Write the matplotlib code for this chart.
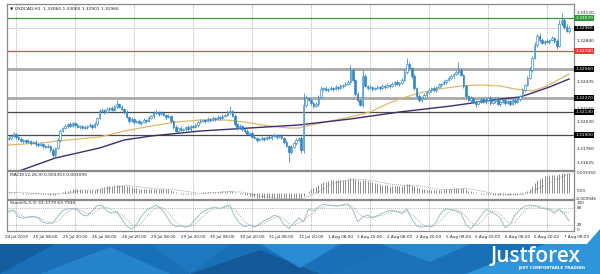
import numpy as np
import matplotlib
matplotlib.use("Agg")
import matplotlib.pyplot as plt
from matplotlib.patches import Polygon
from matplotlib.transforms import blended_transform_factory

# ---- data (prices in pips above 1.3000, one H1 bar per value) ----
base = 1.3
first_open = 186
close_pips = [
    187, 189, 191, 188, 186, 184, 185, 183, 184, 182, 183, 181,
    180, 181, 179, 178, 179, 175, 170, 177, 185, 194, 197, 199,
    201, 199, 202, 200, 198, 199, 197, 198, 199, 200, 198, 201,
    207, 214, 215, 213, 216, 217, 215, 219, 221, 218, 216, 213,
    208, 204, 206, 203, 204, 202, 203, 205, 204, 207, 209, 212,
    213, 211, 212, 210, 208, 209, 204, 198, 194, 197, 195, 196,
    198, 196, 199, 198, 200, 203, 204, 205, 204, 206, 205, 207,
    206, 208, 207, 209, 210, 213, 214, 209, 201, 197, 199, 196,
    194, 191, 192, 188, 187, 185, 186, 187, 186, 188, 187, 189,
    190, 188, 189, 187, 183, 179, 173, 178, 182, 185, 187, 175,
    220, 227, 225, 222, 219, 221, 228, 236, 237, 235, 236, 237,
    236, 238, 237, 239, 240, 241, 243, 255, 245, 231, 225, 220,
    249, 239, 237, 238, 236, 237, 238, 237, 239, 238, 240, 239,
    241, 243, 241, 242, 245, 253, 261, 257, 249, 237, 229, 225,
    227, 230, 233, 235, 237, 235, 238, 240, 241, 243, 245, 247,
    249, 251, 253, 255, 250, 239, 229, 225, 227, 223, 221, 224,
    226, 223, 225, 227, 222, 224, 226, 221, 223, 225, 222, 224,
    221, 225, 223, 226, 229, 235, 240, 247, 255, 267, 280, 289,
    285, 282, 284, 283, 285, 287, 284, 279, 301, 305, 298, 294, 297,
]
wick_hi = [
    2, 1, 2, 1, 1, 2, 1, 1, 2, 1, 1, 2,
    1, 2, 1, 1, 2, 1, 2, 1, 2, 2, 1, 2,
    1, 2, 1, 1, 2, 1, 1, 2, 1, 2, 1, 2,
    1, 2, 2, 1, 2, 1, 2, 1, 4, 1, 2, 1,
    2, 1, 2, 1, 1, 2, 1, 2, 1, 2, 1, 2,
    2, 1, 2, 1, 1, 2, 1, 1, 2, 1, 2, 1,
    1, 2, 1, 1, 2, 1, 2, 1, 1, 2, 1, 2,
    1, 2, 1, 2, 1, 2, 5, 1, 2, 1, 2, 1,
    1, 2, 1, 1, 2, 1, 1, 2, 1, 1, 2, 1,
    2, 1, 1, 2, 1, 2, 1, 2, 1, 2, 1, 2,
    12, 3, 1, 2, 1, 2, 2, 3, 1, 2, 1, 2,
    1, 2, 1, 2, 1, 2, 2, 5, 2, 1, 2, 1,
    6, 2, 1, 2, 1, 1, 2, 1, 2, 1, 2, 1,
    2, 1, 2, 1, 2, 3, 6, 2, 1, 2, 1, 2,
    1, 2, 1, 2, 1, 2, 1, 2, 1, 2, 1, 2,
    2, 1, 2, 8, 2, 1, 2, 1, 2, 1, 2, 1,
    2, 1, 2, 1, 2, 1, 2, 1, 2, 1, 2, 1,
    1, 2, 1, 2, 1, 2, 1, 2, 3, 2, 3, 2,
    3, 2, 1, 2, 1, 2, 1, 2, 4, 7, 2, 3, 2,
]
wick_lo = [
    1, 2, 1, 2, 1, 1, 2, 1, 1, 2, 1, 2,
    2, 1, 2, 1, 1, 2, 3, 2, 1, 2, 1, 1,
    2, 1, 1, 2, 1, 2, 1, 1, 2, 1, 2, 1,
    2, 1, 1, 2, 1, 2, 1, 1, 2, 1, 1, 2,
    1, 2, 1, 2, 1, 1, 2, 1, 2, 1, 1, 2,
    1, 2, 1, 1, 2, 1, 2, 2, 1, 2, 1, 1,
    2, 1, 2, 1, 1, 2, 1, 1, 2, 1, 2, 1,
    2, 1, 2, 1, 1, 1, 2, 1, 2, 2, 1, 2,
    2, 1, 2, 1, 1, 2, 1, 1, 2, 1, 1, 2,
    1, 2, 1, 1, 2, 1, 10, 2, 1, 2, 1, 3,
    3, 2, 1, 2, 2, 1, 2, 1, 2, 1, 2, 1,
    2, 1, 2, 1, 2, 1, 1, 2, 1, 2, 2, 1,
    2, 1, 2, 1, 2, 1, 1, 2, 1, 2, 1, 2,
    1, 2, 1, 2, 1, 1, 2, 1, 2, 2, 1, 2,
    2, 1, 2, 1, 2, 1, 2, 1, 2, 1, 2, 1,
    1, 2, 1, 2, 1, 2, 2, 1, 2, 1, 3, 1,
    2, 1, 2, 1, 2, 1, 2, 1, 2, 1, 2, 1,
    2, 1, 2, 1, 2, 1, 2, 1, 1, 2, 1, 2,
    2, 1, 2, 1, 2, 1, 2, 3, 1, 2, 2, 1, 2,
]

# moving averages, read at a few bars
ma_fast_idx = [0, 13, 24, 37, 47, 58, 68, 78, 88, 96, 106, 114, 118, 123, 131,
               139, 147, 153, 159, 167, 175, 184, 192, 200, 206, 213, 218, 222, 228]
ma_fast = [180, 182, 185, 188, 194, 199, 203, 205, 205, 203, 199, 197, 197, 200, 204,
           208, 213, 220, 226, 232, 236, 239, 240, 239, 236, 234, 238, 243, 251]
ma_slow_idx = [2, 19, 37, 47, 58, 78, 98, 118, 139, 159, 180, 200, 208, 213, 220, 228]
ma_slow = [152, 167, 177, 185, 189, 194, 197, 200, 206, 213, 219, 226, 228, 232, 238, 246]

# horizontal levels (pips) and their label colours
levels = [307, 296.6, 274, 256, 227, 213, 190]
level_box = ["#2f9a35", "black", "#e23b3b", "black", "black", "black", "black"]

# MACD main (histogram, 1e-4 units) and signal (every 6th bar)
macd_hist = [
    1, 1, 1, 0, 0, 0, -1, -1, -1, -1, -1, -2,
    -2, -2, -2, -2, -2, -3, -4, -3, -2, 0, 2, 3,
    4, 5, 6, 6, 6, 6, 5, 5, 5, 5, 5, 5,
    6, 8, 9, 10, 11, 12, 12, 13, 14, 14, 14, 13,
    12, 11, 10, 9, 8, 7, 7, 6, 6, 6, 6, 7,
    7, 7, 7, 7, 7, 6, 5, 3, 1, 0, -1, -1,
    -1, -2, -1, -1, -1, 0, 0, 1, 1, 1, 1, 2,
    2, 2, 2, 3, 3, 4, 4, 3, 2, 0, -1, -2,
    -3, -4, -5, -6, -7, -8, -8, -9, -9, -9, -9, -9,
    -8, -9, -9, -9, -9, -9, -9.46, -9, -9, -9, -8, -8,
    -5, 0, 3, 6, 8, 10, 13, 16, 18, 19, 20, 21,
    21, 22, 22, 22, 22, 22, 23, 25, 25, 24, 22, 20,
    21, 21, 20, 19, 18, 17, 16, 15, 14, 13, 13, 12,
    12, 12, 11, 11, 11, 13, 15, 15, 14, 12, 10, 8,
    7, 6, 5, 5, 5, 5, 5, 5, 5, 6, 6, 7,
    7, 8, 9, 9, 9, 8, 6, 4, 3, 2, 1, 0,
    -1, -1, -2, -2, -2, -3, -3, -3, -3, -3, -3, -3,
    -3, -3, -3, -3, -2, -1, 1, 4, 7, 11, 16, 21,
    24, 26, 28, 29, 30, 31, 31, 31, 32, 33.5, 33.5, 33, 33,
]
macd_signal = [1, 0.5, -1, -2, -0.5, 4.8, 5.3, 8.7, 12.8, 10.1, 6.7, 6.6, 3, -0.9,
               0.8, 2.6, 1.1, -4.9, -8.6, -9.3, -9.1, 2, 16.2, 21.7, 22.7, 19.3,
               14.4, 12.2, 11.7, 6.2, 5.7, 7.7, 3.6, -1.4, -2.9, -2.2, 9, 21.3, 32.3]

# Stochastic %K / %D (every 2nd bar)
stoch_k = [70, 74, 48, 44, 48, 50, 45, 28, 24, 26, 50, 72, 78, 80, 74, 56, 52, 70, 90, 92,
           70, 62, 68, 40, 15, 2, 20, 50, 72, 82, 92, 80, 55, 25, 12, 15, 10, 18, 40, 60,
           72, 80, 85, 78, 88, 92, 50, 25, 12, 18, 10, 22, 35, 42, 55, 48, 20, 5, 25, 45,
           30, 78, 70, 85, 95, 92, 90, 88, 94, 96, 75, 30, 48, 55, 45, 52, 62, 70, 72, 68,
           60, 78, 40, 15, 10, 14, 12, 30, 65, 78, 75, 70, 62, 20, 3, 25, 50, 75, 70, 58,
           45, 8, 20, 55, 75, 88, 92, 90, 82, 78, 75, 62, 78, 60, 33]
stoch_d = [65, 70, 62, 50, 47, 48, 47, 38, 30, 26, 33, 50, 67, 77, 78, 70, 60, 60, 72, 85,
           84, 74, 66, 56, 40, 20, 12, 24, 48, 68, 82, 85, 75, 52, 30, 17, 12, 14, 24, 40,
           58, 71, 79, 81, 84, 86, 76, 55, 30, 18, 14, 17, 24, 35, 45, 50, 40, 24, 17, 25,
           34, 52, 62, 78, 84, 90, 92, 90, 91, 93, 88, 65, 50, 45, 50, 51, 54, 62, 68, 70,
           66, 68, 58, 42, 22, 13, 12, 18, 37, 58, 72, 75, 69, 50, 28, 16, 26, 50, 65, 68,
           58, 38, 24, 28, 52, 72, 85, 90, 88, 83, 78, 72, 70, 66, 63]

time_labels = ["24 Jul 2019", "25 Jul 08:00", "25 Jul 20:00", "26 Jul 08:00", "26 Jul 20:00",
               "29 Jul 08:00", "29 Jul 20:00", "30 Jul 08:00", "30 Jul 20:00", "31 Jul 08:00",
               "31 Jul 20:00", "1 Aug 08:00", "1 Aug 20:00", "2 Aug 08:00", "2 Aug 20:00",
               "5 Aug 08:00", "5 Aug 20:00", "6 Aug 08:00", "6 Aug 20:00", "7 Aug 08:00"]

# ---- derived arrays ----
to_price = lambda p: base + np.asarray(p, dtype=float) / 10000
c = np.array(close_pips, dtype=float)
o = np.r_[first_open, c[:-1]]
hi = np.maximum(o, c) + np.array(wick_hi)
lo = np.minimum(o, c) - np.array(wick_lo)
n = len(c)
idx = np.arange(n)

W, H = 600, 274
fig = plt.figure(figsize=(W / 100, H / 100), dpi=100)
fig.patch.set_facecolor("white")


def px_axes(l, t, r, b):
    return fig.add_axes([l / W, 1 - b / H, (r - l) / W, (b - t) / H])


XMIN, XMAX = -0.65, 230.0
label_bars = [3 + 12 * k for k in range(len(time_labels))]
grid_bars = label_bars[::2]
tick_fs = 3.2
txt_col = "#222222"
spine_col = "#8a8a8a"

ax = px_axes(7, 4, 574, 170)
am = px_axes(7, 171, 574, 199)
ast = px_axes(7, 200, 574, 231)
for a in (ax, am, ast):
    a.set_xlim(XMIN, XMAX)
    a.set_xticks([])
    a.set_yticks([])
    for s in a.spines.values():
        s.set_color(spine_col)
        s.set_linewidth(0.9)
    for g in grid_bars:
        a.axvline(g, color="#9a9a9a", lw=0.5, ls=(0, (1.5, 1.5)), zorder=0)

# ---- main price panel ----
ax.set_ylim(to_price(155), to_price(321))
for lv, col in zip(levels, level_box):
    p = to_price(lv)
    if col == "#2f9a35":
        ax.axhline(p, color="#3a9a3a", lw=0.9, zorder=1)
    elif col == "#e23b3b":
        ax.axhline(p, color="#e04848", lw=0.9, zorder=1)
    elif lv == 296.6:
        ax.axhline(p, color="#d0d0d0", lw=0.6, zorder=1)
    elif lv in (256, 227):
        ax.axhline(p, color="#a8a8a8", lw=2.0, zorder=1)
    else:
        ax.axhline(p, color="#4a4a4a", lw=0.9, zorder=1)

cand_col = "#2f86c4"
up = c >= o
ax.vlines(idx, to_price(lo), to_price(hi), color=cand_col, lw=0.55, zorder=3)
body_h = np.maximum(np.abs(c - o), 0.4) / 10000
ax.bar(idx[up], body_h[up], bottom=to_price(np.minimum(o, c))[up], width=0.62,
       color="white", edgecolor=cand_col, linewidth=0.45, zorder=4)
ax.bar(idx[~up], body_h[~up], bottom=to_price(np.minimum(o, c))[~up], width=0.62,
       color=cand_col, edgecolor=cand_col, linewidth=0.45, zorder=4)

ax.plot(ma_fast_idx, to_price(ma_fast), color="#e2b867", lw=0.9, zorder=2)
ax.plot(ma_slow_idx, to_price(ma_slow), color="#3d2c72", lw=1.0, zorder=2)

tr = blended_transform_factory(ax.transAxes, ax.transData)
tick_vals = [1.33120, 1.32840, 1.32435, 1.32165, 1.32030, 1.31760, 1.31625]
for tv in tick_vals:
    ax.text(1.004, tv, f"{tv:.5f}", transform=tr, fontsize=tick_fs, color=txt_col,
            va="center", ha="left", clip_on=False)
for lv, col in zip(levels, level_box):
    ax.text(1.002, to_price(lv), f"{to_price(lv):.5f}", transform=tr, fontsize=tick_fs,
            color="white", va="center", ha="left", clip_on=False, zorder=10,
            bbox=dict(boxstyle="square,pad=0.2", fc=col, ec="none"))
ax.text(0.006, 0.985, "\u25BC USDCAD,H1  1.33060 1.33060 1.32901 1.32966",
        transform=ax.transAxes, fontsize=3.2, color=txt_col, va="top", ha="left")

# ---- MACD panel ----
mh = np.array(macd_hist) / 10000
am.set_ylim(-0.00100, 0.00369)
am.vlines(idx, 0, mh, color="#8c8c8c", lw=0.7, zorder=2)
am.plot(np.arange(0, n, 6), np.array(macd_signal) / 10000, color="#9a9a9a",
        lw=0.6, ls=(0, (1.2, 1.2)), zorder=3)
trm = blended_transform_factory(am.transAxes, am.transData)
for v, s in [(mh.max(), f"{mh.max():.6f}"), (0.0003, "0.00"), (mh.min(), f"{mh.min():.6f}")]:
    am.text(1.004, v, s, transform=trm, fontsize=3.0, color=txt_col,
            va="center", ha="left", clip_on=False)
am.text(0.006, 0.93, "MACD(12,26,9) 0.003353 0.003099", transform=am.transAxes,
        fontsize=3.2, color=txt_col, va="top", ha="left")

# ---- Stochastic panel ----
ast.set_ylim(-4, 111)
sx = np.arange(0, n, 2)
for lvl in (80, 20):
    ast.axhline(lvl, color="#9a9a9a", lw=0.5, ls=(0, (1.5, 1.5)), zorder=1)
ast.plot(sx, stoch_k, color="#9cc0c8", lw=0.7, zorder=3)
ast.plot(sx, stoch_d, color="#a8a8a8", lw=0.6, ls=(0, (1.2, 1.2)), zorder=3)
trs = blended_transform_factory(ast.transAxes, ast.transData)
for v in (100, 80, 20, 0):
    ast.text(1.004, v, str(v), transform=trs, fontsize=3.0, color=txt_col,
             va="center", ha="left", clip_on=False)
ast.text(0.006, 0.96, "Stoch(5,3,3) 33.3779 63.7930", transform=ast.transAxes,
         fontsize=3.2, color=txt_col, va="top", ha="left")

# time axis labels under the stochastic panel
trx = blended_transform_factory(ast.transData, ast.transAxes)
for b, lab in zip(label_bars, time_labels):
    ast.text(b, -0.12, lab, transform=trx, fontsize=3.0, color=txt_col,
             ha="center", va="top", clip_on=False)

# ---- JustForex banner ----
bg = fig.add_axes([0, 0, 1, 1], zorder=-5)
bg.set_xlim(0, W)
bg.set_ylim(H, 0)
bg.axis("off")
bg.add_patch(Polygon([(0, 244), (W, 244), (W, H), (0, H)], closed=True,
                     fc="#1a70b6", ec="none"))
shapes = [
    ([(0, 244), (55, 244), (0, 274)], "#145ea0"),
    ([(40, 274), (110, 247), (170, 274)], "#2584cc"),
    ([(150, 244), (230, 244), (190, 274)], "#1c79c0"),
    ([(190, 274), (260, 250), (320, 274)], "#13599a"),
    ([(260, 244), (340, 244), (300, 268)], "#2a8ad3"),
    ([(330, 274), (400, 246), (450, 274)], "#1a72b8"),
    ([(380, 244), (470, 244), (430, 262)], "#2686ce"),
    ([(465, 274), (545, 244), (W, 244), (W, H)], "#2e95db"),
    ([(586, 245), (W, 229), (W, 245)], "#2e95db"),
]
for pts, col in shapes:
    bg.add_patch(Polygon(pts, closed=True, fc=col, ec="none"))
bg.text(536, 257, "Justforex", color="white", fontsize=15, fontfamily="Open Sans",
        fontweight="semibold", ha="center", va="center")
bg.text(552, 268.5, "JUST COMFORTABLE TRADING", color="white", fontsize=2.9,
        fontweight="bold", ha="center", va="center")

fig.savefig("out.png", dpi=100, facecolor="white")
